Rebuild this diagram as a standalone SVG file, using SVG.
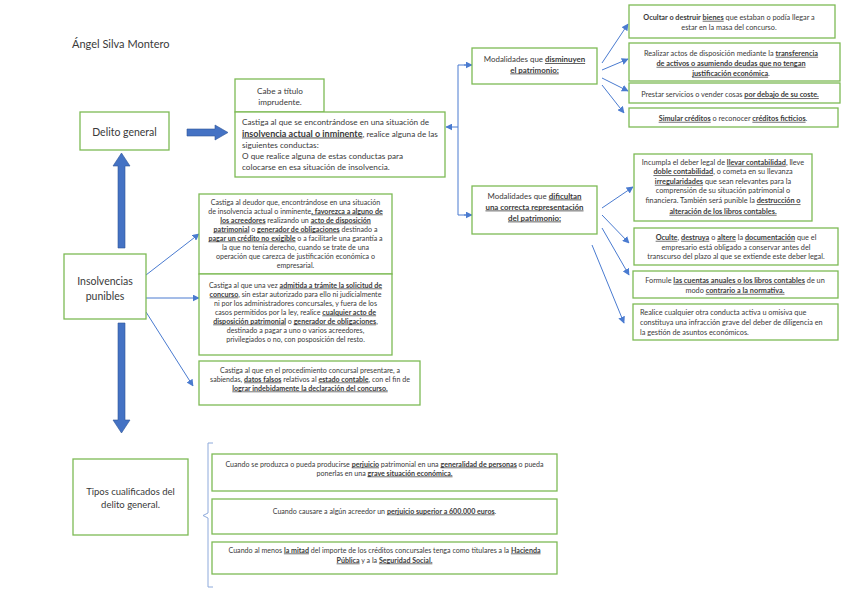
<svg xmlns="http://www.w3.org/2000/svg" width="848" height="599" viewBox="0 0 848 599">
<defs>
<style>
.box{fill:#fff;stroke:#7dba55;stroke-width:1.3}
.t{font-family:Lato,"Liberation Sans",sans-serif;fill:#3a3a3a}
.s{font-size:7.1px}
.r{font-size:7.3px}
.m{font-size:8.2px}
.u{font-weight:bold;text-decoration:underline}
.c{stroke:#4a7bd0;stroke-width:1;fill:none}
.blk{fill:#4472c4;stroke:#2f5597;stroke-width:0.6}
</style>
<marker id="ah" viewBox="0 0 10 10" refX="9" refY="5" markerWidth="7" markerHeight="7" orient="auto" markerUnits="userSpaceOnUse">
<path d="M0,0 L10,5 L0,10 z" fill="#4a7bd0"/>
</marker>
</defs>
<rect width="848" height="599" fill="#fff"/>

<text class="t" x="72" y="48" font-size="11">Ángel Silva Montero</text>

<g id="connectors">
<path class="blk" d="M187,129 L215,129 L215,125 L228,132.5 L215,140 L215,136 L187,136 z"/>
<path class="blk" d="M118,248 L118,166 L113,166 L121.5,153 L130,166 L125,166 L125,248 z"/>
<path class="blk" d="M118,323 L118,420 L113,420 L121.5,433 L130,420 L125,420 L125,323 z"/>
<line class="c" x1="146" y1="275" x2="199" y2="234" marker-end="url(#ah)"/>
<line class="c" x1="146" y1="298" x2="199" y2="298" marker-end="url(#ah)"/>
<line class="c" x1="146" y1="312" x2="193" y2="386" marker-end="url(#ah)"/>
<path class="c" d="M471,65 L458,65 L458,215 L471,215"/>
<line class="c" x1="464" y1="65" x2="472" y2="65" marker-end="url(#ah)"/>
<line class="c" x1="464" y1="215" x2="472" y2="215" marker-end="url(#ah)"/>
<line class="c" x1="458" y1="127" x2="446" y2="127" marker-end="url(#ah)"/>
<line class="c" x1="602" y1="63" x2="628" y2="24" marker-end="url(#ah)"/>
<line class="c" x1="602" y1="70" x2="628" y2="59" marker-end="url(#ah)"/>
<line class="c" x1="602" y1="78" x2="628" y2="91" marker-end="url(#ah)"/>
<line class="c" x1="602" y1="85" x2="624" y2="113" marker-end="url(#ah)"/>
<line class="c" x1="602" y1="208" x2="633" y2="187" marker-end="url(#ah)"/>
<line class="c" x1="602" y1="215" x2="629" y2="243" marker-end="url(#ah)"/>
<line class="c" x1="602" y1="228" x2="629" y2="275" marker-end="url(#ah)"/>
<line class="c" x1="592" y1="245" x2="624" y2="323" marker-end="url(#ah)"/>
<path d="M213,443 L208,443 L208,513 L203,515.5 L208,518 L208,587 L213,587" fill="none" stroke="#8eaadb" stroke-width="1"/>
</g>

<g id="delito-general">
<rect class="box" x="80" y="112" width="89" height="38"/>
<text class="t" x="124.5" y="135.5" font-size="10.5" text-anchor="middle">Delito general</text>
</g>

<g id="insolvencias-punibles">
<rect class="box" x="64" y="254" width="82" height="65"/>
<text class="t" x="105" y="285" font-size="10.5" text-anchor="middle">Insolvencias</text>
<text class="t" x="105" y="300" font-size="10.5" text-anchor="middle">punibles</text>
</g>

<g id="cabe-titulo">
<rect class="box" x="235" y="79" width="89" height="33"/>
<text class="t m" x="280" y="94" text-anchor="middle">Cabe a título</text>
<text class="t m" x="280" y="105" text-anchor="middle">imprudente.</text>
</g>

<g id="castiga-general">
<rect class="box" x="235" y="112" width="210" height="65"/>
<text class="t m" x="242" y="125">Castiga al que se encontrándose en una situación de</text>
<text class="t m" x="242" y="136.5"><tspan class="u" font-size="9">insolvencia actual o inminente</tspan>, realice alguna de las</text>
<text class="t m" x="242" y="148">siguientes conductas:</text>
<text class="t m" x="242" y="159">O que realice alguna de estas conductas para</text>
<text class="t m" x="242" y="170">colocarse en esa situación de insolvencia.</text>
</g>

<g id="mod-disminuyen">
<rect class="box" x="472" y="48" width="125" height="36"/>
<text class="t" font-size="7.9" x="534.5" y="62" text-anchor="middle">Modalidades que <tspan class="u">disminuyen</tspan></text>
<text class="t" font-size="7.9" x="534.5" y="72.5" text-anchor="middle"><tspan class="u">el patrimonio:</tspan></text>
</g>

<g id="mod-dificultan">
<rect class="box" x="472" y="186" width="125" height="48"/>
<text class="t" font-size="7.9" x="534.5" y="198.5" text-anchor="middle">Modalidades que <tspan class="u">dificultan</tspan></text>
<text class="t" font-size="7.9" x="534.5" y="209.5" text-anchor="middle"><tspan class="u">una correcta representación</tspan></text>
<text class="t" font-size="7.9" x="534.5" y="220.5" text-anchor="middle"><tspan class="u">del patrimonio:</tspan></text>
</g>

<g id="ocultar">
<rect class="box" x="629" y="5" width="206" height="33"/>
<text class="t r" x="729" y="19.8" text-anchor="middle"><tspan font-weight="bold">Ocultar o destruir</tspan> <tspan class="u">bienes</tspan> que estaban o podía llegar a</text>
<text class="t r" x="729" y="29.8" text-anchor="middle">estar en la masa del concurso.</text>
</g>

<g id="realizar">
<rect class="box" x="629" y="43" width="211" height="38"/>
<text class="t r" x="731" y="55.8" text-anchor="middle">Realizar actos de disposición mediante la <tspan class="u">transferencia</tspan></text>
<text class="t r" x="731" y="65.8" text-anchor="middle"><tspan class="u">de activos o asumiendo deudas que no tengan</tspan></text>
<text class="t r" x="731" y="75.8" text-anchor="middle"><tspan class="u">justificación económica</tspan>.</text>
</g>

<g id="prestar">
<rect class="box" x="629" y="83" width="211" height="20"/>
<text class="t r" x="730" y="97.3" text-anchor="middle">Prestar servicios o vender cosas <tspan class="u">por debajo de su coste.</tspan></text>
</g>

<g id="simular">
<rect class="box" x="629" y="108" width="209" height="19"/>
<text class="t r" x="733" y="120.8" text-anchor="middle"><tspan class="u">Simular créditos</tspan> o reconocer <tspan class="u">créditos ficticios</tspan>.</text>
</g>

<g id="incumpla">
<rect class="box" x="634" y="154" width="178" height="67"/>
<text class="t r" x="723" y="164.8" text-anchor="middle">Incumpla el deber legal de <tspan class="u">llevar contabilidad</tspan>, lleve</text>
<text class="t r" x="723" y="174.3" text-anchor="middle"><tspan class="u">doble contabilidad</tspan>, o cometa en su llevanza</text>
<text class="t r" x="723" y="183.8" text-anchor="middle"><tspan class="u">irregularidades</tspan> que sean relevantes para la</text>
<text class="t r" x="723" y="193.3" text-anchor="middle">comprensión de su situación patrimonial o</text>
<text class="t r" x="723" y="203.3" text-anchor="middle">financiera. También será punible la <tspan class="u">destrucción o</tspan></text>
<text class="t r" x="723" y="213.8" text-anchor="middle"><tspan class="u">alteración de los libros contables.</tspan></text>
</g>

<g id="oculte">
<rect class="box" x="634" y="228" width="204" height="37"/>
<text class="t r" x="736" y="239.8" text-anchor="middle"><tspan class="u">Oculte</tspan>, <tspan class="u">destruya</tspan> o <tspan class="u">altere</tspan> la <tspan class="u">documentación</tspan> que el</text>
<text class="t r" x="736" y="249.8" text-anchor="middle">empresario está obligado a conservar antes del</text>
<text class="t r" x="736" y="258.8" text-anchor="middle">transcurso del plazo al que se extiende este deber legal.</text>
</g>

<g id="formule">
<rect class="box" x="633" y="271" width="205" height="27"/>
<text class="t r" x="735" y="282.8" text-anchor="middle">Formule <tspan class="u">las cuentas anuales o los libros contables</tspan> de un</text>
<text class="t r" x="735" y="292.8" text-anchor="middle">modo <tspan class="u">contrario a la normativa.</tspan></text>
</g>

<g id="realice">
<rect class="box" x="633" y="304" width="205" height="36"/>
<text class="t r" x="640" y="314.8">Realice cualquier otra conducta activa u omisiva que</text>
<text class="t r" x="640" y="324.8">constituya una infracción grave del deber de diligencia en</text>
<text class="t r" x="640" y="334.8">la gestión de asuntos económicos.</text>
</g>

<g id="castiga-deudor">
<rect class="box" x="199" y="194" width="193" height="80"/>
<text class="t s" x="295.5" y="204.5" text-anchor="middle">Castiga al deudor que, encontrándose en una situación</text>
<text class="t s" x="295.5" y="213.5" text-anchor="middle">de insolvencia actual o inminente<tspan class="u">, favorezca a alguno de</tspan></text>
<text class="t s" x="295.5" y="222.5" text-anchor="middle"><tspan class="u">los acreedores</tspan> realizando un <tspan class="u">acto de disposición</tspan></text>
<text class="t s" x="295.5" y="231.5" text-anchor="middle"><tspan class="u">patrimonial</tspan> o <tspan class="u">generador de obligaciones</tspan> destinado a</text>
<text class="t s" x="295.5" y="240.5" text-anchor="middle"><tspan class="u">pagar un crédito no exigible</tspan> o a facilitarle una garantía a</text>
<text class="t s" x="295.5" y="249.5" text-anchor="middle">la que no tenía derecho, cuando se trate de una</text>
<text class="t s" x="295.5" y="258.5" text-anchor="middle">operación que carezca de justificación económica o</text>
<text class="t s" x="295.5" y="267.5" text-anchor="middle">empresarial.</text>
</g>

<g id="castiga-admitida">
<rect class="box" x="199" y="274" width="193" height="81"/>
<text class="t s" x="295.5" y="287.5" text-anchor="middle">Castiga al que una vez <tspan class="u">admitida a trámite la solicitud de</tspan></text>
<text class="t s" x="295.5" y="296.5" text-anchor="middle"><tspan class="u">concurso</tspan>, sin estar autorizado para ello ni judicialmente</text>
<text class="t s" x="295.5" y="305.5" text-anchor="middle">ni por los administradores concursales, y fuera de los</text>
<text class="t s" x="295.5" y="314.5" text-anchor="middle">casos permitidos por la ley, realice <tspan class="u">cualquier acto de</tspan></text>
<text class="t s" x="295.5" y="323.5" text-anchor="middle"><tspan class="u">disposición patrimonial</tspan> o <tspan class="u">generador de obligaciones</tspan>,</text>
<text class="t s" x="295.5" y="332.5" text-anchor="middle">destinado a pagar a uno o varios acreedores,</text>
<text class="t s" x="295.5" y="341.5" text-anchor="middle">privilegiados o no, con posposición del resto.</text>
</g>

<g id="castiga-procedimiento">
<rect class="box" x="199" y="361" width="221" height="44"/>
<text class="t s" x="310" y="372.5" text-anchor="middle">Castiga al que en el procedimiento concursal presentare, a</text>
<text class="t s" x="310" y="381.5" text-anchor="middle">sabiendas, <tspan class="u">datos falsos</tspan> relativos al <tspan class="u">estado contable</tspan>, con el fin de</text>
<text class="t s" x="310" y="390.5" text-anchor="middle"><tspan class="u">lograr indebidamente la declaración del concurso.</tspan></text>
</g>

<g id="tipos-cualificados">
<rect class="box" x="73" y="459" width="115" height="76"/>
<text class="t" font-size="9.5" x="130.5" y="495" text-anchor="middle">Tipos cualificados del</text>
<text class="t" font-size="9.5" x="130.5" y="508" text-anchor="middle">delito general.</text>
</g>

<g id="cualificado-1">
<rect class="box" x="212" y="454" width="345" height="37"/>
<text class="t s" x="384.5" y="466.5" text-anchor="middle">Cuando se produzca o pueda producirse <tspan class="u">perjuicio</tspan> patrimonial en una <tspan class="u">generalidad de personas</tspan> o pueda</text>
<text class="t s" x="384.5" y="475.5" text-anchor="middle">ponerlas en una <tspan class="u">grave situación económica.</tspan></text>
</g>

<g id="cualificado-2">
<rect class="box" x="212" y="499" width="345" height="35"/>
<text class="t s" x="384.5" y="513.5" text-anchor="middle">Cuando causare a algún acreedor un <tspan class="u">perjuicio superior a 600.000 euros</tspan>.</text>
</g>

<g id="cualificado-3">
<rect class="box" x="212" y="542" width="345" height="32"/>
<text class="t s" x="384.5" y="552.5" text-anchor="middle">Cuando al menos <tspan class="u">la mitad</tspan> del importe de los créditos concursales tenga como titulares a la <tspan class="u">Hacienda</tspan></text>
<text class="t s" x="384.5" y="562.5" text-anchor="middle"><tspan class="u">Pública</tspan> y a la <tspan class="u">Seguridad Social.</tspan></text>
</g>
</svg>
